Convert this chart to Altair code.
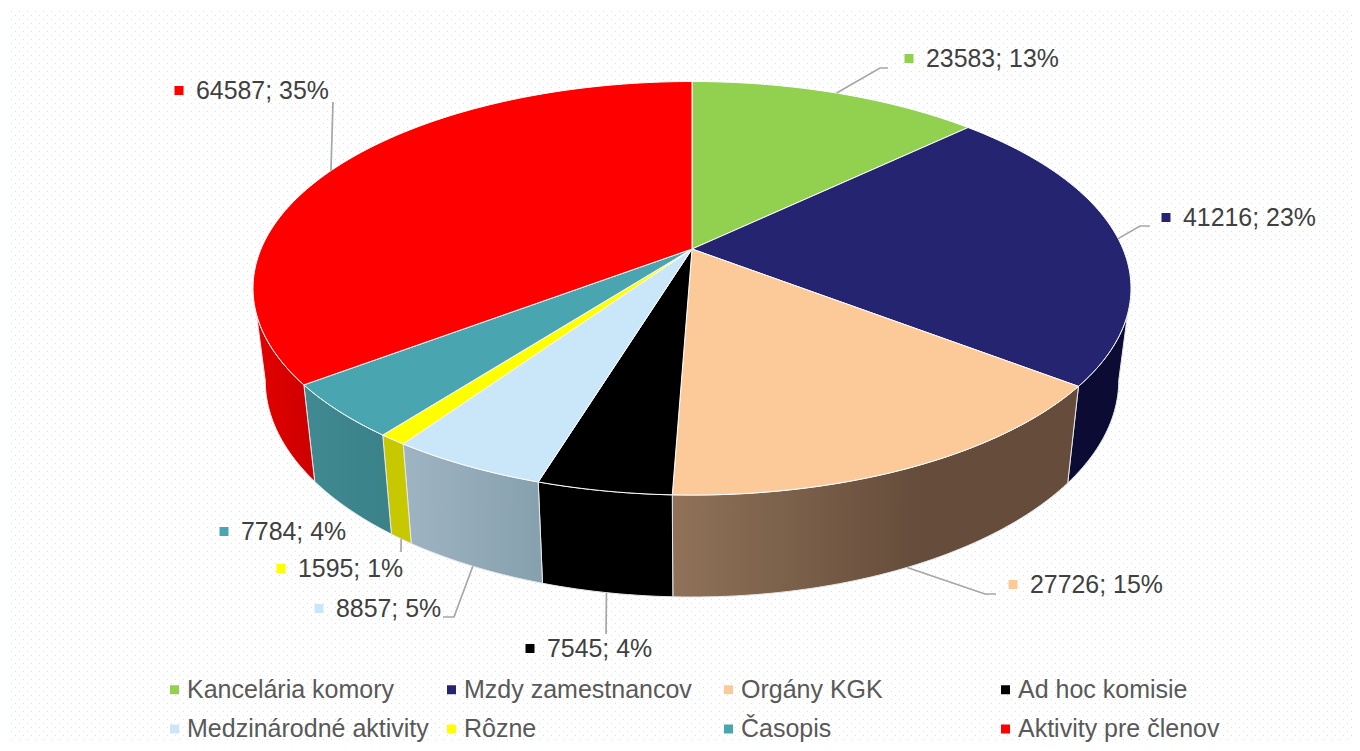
import math
import altair as alt

categories = ["Kancelária komory", "Mzdy zamestnancov", "Orgány KGK", "Ad hoc komisie",
              "Medzinárodné aktivity", "Rôzne", "Časopis", "Aktivity pre členov"]
values = [23583, 41216, 27726, 7545, 8857, 1595, 7784, 64587]
top_colors = ["#92d050", "#242470", "#fcc998", "#000000", "#c9e7f9", "#ffff00", "#49a6b0", "#ff0000"]

# side-wall shading (left colour, right colour, stop where the right colour is reached)
side_shades = [None,
               ("#0b0b33", "#0b0b33", 1.0),
               ("#8f7258", "#664d3b", 0.6),
               ("#000000", "#000000", 1.0),
               ("#9fb4c3", "#86a0ae", 1.0),
               ("#c8c800", "#c8c800", 1.0),
               ("#408a91", "#3a8188", 1.0),
               ("#e40000", "#cc0000", 1.0)]

# --- layout (page pixels) ---
M = 8                # page margin
CX = 692             # pie apex x
TOP = dict(y0=249, a=199.3, b=431.0)
BOT = dict(y0=339.0, a=209.0, b=419.0)
K = 0.19             # perspective factor
SIL = math.degrees(math.asin(K))  # silhouette offset from horizontal

# for each slice: rim for the leader start, angle nudge, leader waypoints, text left x, text centre y
labels_layout = [
    ("top",    0.0,  [(880, 68), (888, 68)],   926, 60),
    ("top",    0.0,  [(1140, 226), (1150, 226)], 1183, 219),
    ("bottom", 0.0,  [(985, 594), (996, 594)], 1030, 586),
    ("bottom", 0.0,  [(606, 634)],             547, 650),
    ("bottom", 0.0,  [(454, 617), (443, 617)], 336, 610),
    ("bottom", 0.0,  [(401, 552)],             298, 570),
    (None,     0.0,  [],                       241, 533),
    ("top",    -1.3, [(333, 102)],             196, 92),
]


def project(deg, face):
    t = math.radians(deg)
    u, v = math.sin(t), math.cos(t)
    d = 1 + K * v
    return [CX + face["b"] * u / d - M, face["y0"] - face["a"] * v / d - M]


def arc(a0, a1, face):
    n = max(2, int(abs(a1 - a0)) + 2)
    return [project(a0 + (a1 - a0) * i / (n - 1), face) for i in range(n)]


total = sum(values)
edges = [0.0]
for val in values:
    edges.append(edges[-1] + val / total * 360)

top_features = []
for name, a0, a1 in zip(categories, edges[:-1], edges[1:]):
    apex = [CX - M, TOP["y0"] - M]
    ring = [apex] + arc(a0, a1, TOP) + [apex]
    top_features.append({"type": "Feature", "properties": {"name": name},
                         "geometry": {"type": "Polygon", "coordinates": [ring]}})

color = alt.Color("properties.name:N", sort=None,
                  scale=alt.Scale(domain=categories, range=top_colors),
                  legend=alt.Legend(
                      title=None, orient="none", legendX=154, legendY=669, columns=4,
                      direction="horizontal",
                      gridAlign="all", columnPadding=10, rowPadding=13.5,
                      symbolType="square", symbolSize=81, symbolStrokeWidth=0,
                      symbolOffset=0, labelOffset=0,
                      labelFont="Liberation Sans", labelFontSize=25, labelColor="#595959",
                      labelLimit=300))

# dotted background
rows_a, rows_b = [], []
for i, y in enumerate(range(11, 742, 4)):
    row = [[3, y - M + 0.5], [1350, y - M + 0.5]]
    (rows_a if i % 2 == 0 else rows_b).append(row)


def dots(rows, offset):
    feat = {"type": "Feature", "properties": {},
            "geometry": {"type": "MultiLineString", "coordinates": rows}}
    return alt.Chart(alt.Data(values=[feat])).mark_geoshape(
        filled=False, stroke="#c4ebe6", strokeWidth=1, strokeDash=[1, 7], strokeDashOffset=offset)


layers = [dots(rows_a, 0), dots(rows_b, 4)]

# side walls
lo, hi = 90 + SIL, 270 - SIL
for shade, a0, a1 in zip(side_shades, edges[:-1], edges[1:]):
    if shade is None:
        continue
    s0, s1 = max(a0, lo), min(a1, hi)
    ring = arc(s0, s1, TOP) + arc(s1, s0, BOT)
    ring.append(ring[0])
    feat = {"type": "Feature", "properties": {},
            "geometry": {"type": "Polygon", "coordinates": [ring]}}
    fill = alt.Gradient(gradient="linear", x1=0, x2=1, y1=0, y2=0, stops=[
        alt.GradientStop(offset=0, color=shade[0]),
        alt.GradientStop(offset=shade[2], color=shade[1]),
        alt.GradientStop(offset=1, color=shade[1])])
    layers.append(alt.Chart(alt.Data(values=[feat])).mark_geoshape(
        fill=fill, stroke="#e4e8ea", strokeWidth=1))

# top face
layers.append(alt.Chart(alt.Data(values=top_features)).mark_geoshape(
    stroke="#ffffff", strokeWidth=1).encode(color=color))

# leaders, square keys and value labels
leader_features, label_rows = [], []
for name, val, a0, a1, (rim, nudge, way, tx, ty) in zip(categories, values, edges[:-1], edges[1:], labels_layout):
    if rim:
        start = project((a0 + a1) / 2 + nudge, TOP if rim == "top" else BOT)
        line = [start] + [[x - M, y - M] for x, y in way]
        leader_features.append({"type": "Feature", "properties": {},
                                "geometry": {"type": "LineString", "coordinates": line}})
    label_rows.append({"name": name, "text": f"{val}; {round(val / total * 100)}%",
                       "lx": tx - M, "ly": ty - M, "kx": tx - 17 - M, "ky": ty - 1.5 - M})

layers.append(alt.Chart(alt.Data(values=leader_features)).mark_geoshape(
    filled=False, stroke="#a6a6a6", strokeWidth=1.7))

labels = alt.Data(values=label_rows)
layers.append(alt.Chart(labels).mark_square(size=81, opacity=1).encode(
    longitude="kx:Q", latitude="ky:Q",
    color=alt.Color("name:N", sort=None, legend=None,
                    scale=alt.Scale(domain=categories, range=top_colors))))
layers.append(alt.Chart(labels).mark_text(
    align="left", baseline="middle", font="Liberation Sans", fontSize=24.9, color="#404040").encode(
    longitude="lx:Q", latitude="ly:Q", text="text:N"))

chart = alt.layer(*layers).properties(
    width=1344, height=735, padding=0,
    autosize=alt.AutoSizeParams(type="none"),
    background="#ffffff",
    projection=alt.Projection(type="identity", scale=1, translate=[0, 0]),
).configure_view(strokeWidth=0)

chart.save("out.html", embed_options={"renderer": "svg", "actions": False})
